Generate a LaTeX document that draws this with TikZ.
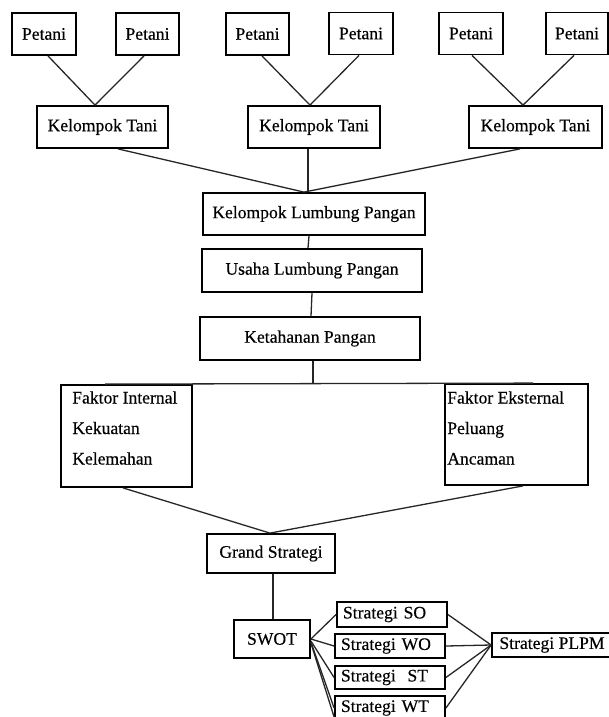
\documentclass[tikz,border=0pt]{standalone}
\usepackage{fontspec}
\setmainfont[FakeBold=0.35]{Liberation Serif}
\usetikzlibrary{shadows}
\begin{document}
\begin{tikzpicture}[x=1pt,y=-1pt,
  box/.style={draw=black, line width=1.8pt, fill=white, inner sep=0pt,
    font=\fontsize{17.6}{21}\selectfont,
    drop shadow={shadow xshift=0.9pt, shadow yshift=-0.9pt, opacity=1, fill=black}},
  sbox/.style={box, minimum width=110, text width=98pt, align=left, inner xsep=6pt},
  txt/.style={inner sep=0pt, align=left, font=\fontsize{17.6}{30.5}\selectfont},
  link/.style={line width=1.3pt, draw=black!85}]
\useasboundingbox (0,0) rectangle (609,717);
% farmers
\node[box, minimum width=64, minimum height=42] (p1) at (44,34) {Petani};
\node[box, minimum width=63, minimum height=42] (p2) at (147.5,34) {Petani};
\node[box, minimum width=63, minimum height=42] (p3) at (257.5,34) {Petani};
\node[box, minimum width=64, minimum height=42] (p4) at (361,33.5) {Petani};
\node[box, minimum width=64, minimum height=42] (p5) at (471,33.5) {Petani};
\node[box, minimum width=62, minimum height=42] (p6) at (577,33.5) {Petani};
% groups
\node[box, minimum width=131, minimum height=42] (kt1) at (102.5,127) {Kelompok Tani};
\node[box, minimum width=132, minimum height=42] (kt2) at (314,127) {Kelompok Tani};
\node[box, minimum width=133, minimum height=42] (kt3) at (535.5,127) {Kelompok Tani};
% chain
\node[box, minimum width=222, minimum height=42] (kl) at (314,214) {Kelompok Lumbung Pangan};
\node[box, minimum width=220, minimum height=43] (ul) at (312,270.5) {Usaha Lumbung Pangan};
\node[box, minimum width=220, minimum height=43] (kp) at (310,338.5) {Ketahanan Pangan};
% factors
\node[box, minimum width=131, minimum height=102] (fi) at (126.5,436) {};
\node[box, minimum width=143, minimum height=101] (fe) at (516.5,434.5) {};
\node[txt, anchor=north west] (fit) at ([xshift=12, yshift=-7]fi.north west) {Faktor Internal\\Kekuatan\\Kelemahan};
\node[txt, anchor=north west] (fet) at ([xshift=3, yshift=-8]fe.north west) {Faktor Eksternal\\Peluang\\Ancaman};
% strategy
\node[box, minimum width=128, minimum height=39] (gs) at (271,553.5) {Grand Strategi};
\node[box, minimum width=76, minimum height=38] (sw) at (272,639) {SWOT};
\node[sbox, minimum height=25] (so) at (392,614.5) {Strategi SO};
\node[sbox, minimum height=24] (wo) at (390,646) {Strategi WO};
\node[sbox, minimum height=23] (st) at (390,677.5) {Strategi~ ST};
\node[sbox, minimum height=24] (wt) at (390,708) {Strategi WT};
\node[box, minimum width=120, minimum height=24] (pl) at (552,645) {Strategi PLPM};
% connectors
\draw[link] ([xshift=4]p1.south) -- ([xshift=-7.5]kt1.north);
\draw[link] ([xshift=-3.5]p2.south) -- ([xshift=-7.5]kt1.north);
\draw[link] ([xshift=4.5]p3.south) -- ([xshift=-4]kt2.north);
\draw[link] ([xshift=-2]p4.south) -- ([xshift=-4]kt2.north);
\draw[link] ([xshift=1]p5.south) -- ([xshift=-12.5]kt3.north);
\draw[link] ([xshift=-3]p6.south) -- ([xshift=-12.5]kt3.north);
\draw[link] ([xshift=15.5]kt1.south) -- ([xshift=-10]kl.north);
\draw[link] ([xshift=-6]kt2.south) -- ([xshift=-6]kl.north);
\draw[link] ([xshift=-15.5]kt3.south) -- ([xshift=-10]kl.north);
\draw[link] ([xshift=-5]kl.south) -- ([xshift=-4]ul.north);
\draw[link] (ul.south) -- ([xshift=1]kp.north);
\coordinate (j) at (313,384);
\draw[link] ([xshift=3]kp.south) -- (j);
\draw[link] ([xshift=-21.5]fi.north) -- ([xshift=16.5]fe.north);
\draw[link] ([xshift=-3.5]fi.south) -- ([xshift=-1]gs.north);
\draw[link] ([xshift=6.5]fe.south) -- ([xshift=-1]gs.north);
\draw[link] ([xshift=2]gs.south) -- ([xshift=1]sw.north);
\draw[link] (sw.east) -- (so.west);
\draw[link] (sw.east) -- (wo.west);
\draw[link] ([yshift=-2]sw.east) -- (st.west);
\draw[link] ([yshift=-3]sw.east) -- (wt.west);
\draw[link] ([yshift=-4]sw.east) -- ([yshift=-9]wt.west);
\draw[link] (so.east) -- (pl.west);
\draw[link] (wo.east) -- (pl.west);
\draw[link] (st.east) -- (pl.west);
\draw[link] (wt.east) -- (pl.west);
\end{tikzpicture}
\end{document}
